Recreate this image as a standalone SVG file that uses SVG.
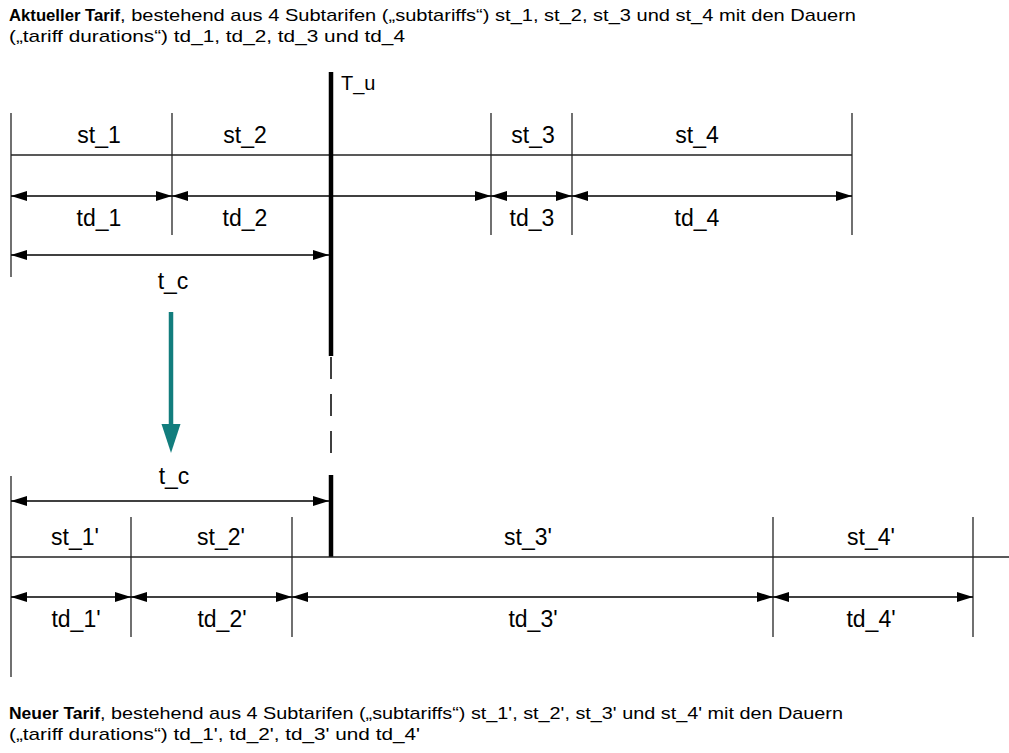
<svg xmlns="http://www.w3.org/2000/svg" width="1009" height="753" viewBox="0 0 1009 753">
<style>
  text { font-family: "Liberation Sans", Arial, sans-serif; fill: #000; }
  .title { font-size: 17px; }
  .b { font-weight: bold; }
  .lbl { font-size: 23px; text-anchor: middle; }
  .tick { stroke: #111; stroke-width: 1.2; }
  .axis { stroke: #222; stroke-width: 1.3; }
  .dim { stroke: #000; stroke-width: 1.3; marker-start: url(#ah); marker-end: url(#ah); }
  .thick { stroke: #000; stroke-width: 4.5; }
  .dash { stroke: #000; stroke-width: 1.5; stroke-dasharray: 22 15; }
</style>
<defs>
  <marker id="ah" markerUnits="userSpaceOnUse" markerWidth="16" markerHeight="10" refX="16" refY="5" orient="auto-start-reverse">
    <path d="M0,0 L16,5 L0,10 z" fill="#000"/>
  </marker>
</defs>
<rect width="1009" height="753" fill="#fff"/>

<g id="title-top">
  <text class="title b" x="9" y="21" textLength="111" lengthAdjust="spacingAndGlyphs">Aktueller Tarif</text>
  <text class="title" x="120" y="21" textLength="736" lengthAdjust="spacingAndGlyphs">, bestehend aus 4 Subtarifen („subtariffs“) st_1, st_2, st_3 und st_4 mit den Dauern</text>
  <text class="title" x="9" y="42" textLength="396" lengthAdjust="spacingAndGlyphs">(„tariff durations“) td_1, td_2, td_3 und td_4</text>
</g>

<g id="current-tariff">
  <g id="ticks-top">
    <line class="tick" x1="11" y1="113" x2="11" y2="277"/>
    <line class="tick" x1="172" y1="113" x2="172" y2="235"/>
    <line class="tick" x1="491" y1="113" x2="491" y2="235"/>
    <line class="tick" x1="572" y1="113" x2="572" y2="235"/>
    <line class="tick" x1="852" y1="113" x2="852" y2="235"/>
    <line class="axis" x1="11" y1="155" x2="852" y2="155"/>
  </g>
  <g id="st-top">
    <text class="lbl" x="99" y="143">st_1</text>
    <text class="lbl" x="245" y="143">st_2</text>
    <text class="lbl" x="533" y="143">st_3</text>
    <text class="lbl" x="697" y="143">st_4</text>
  </g>
  <g id="td-top">
    <text class="lbl" x="99" y="226">td_1</text>
    <text class="lbl" x="245" y="226">td_2</text>
    <text class="lbl" x="532" y="226">td_3</text>
    <text class="lbl" x="697" y="226">td_4</text>
  </g>
  <text id="tc-top" class="lbl" x="173" y="289">t_c</text>
</g>

<g id="Tu">
  <line class="thick" x1="331" y1="72" x2="331" y2="356"/>
  <line class="dash" x1="331" y1="357" x2="331" y2="458"/>
  <line class="thick" x1="331" y1="475" x2="331" y2="557"/>
  <text x="341" y="90" style="font-size:20px">T_u</text>
</g>

<g id="transition-arrow">
  <line x1="171" y1="312" x2="171" y2="428" stroke="#127d7d" stroke-width="4.5"/>
  <polygon points="161.5,424 180.5,424 171,453" fill="#127d7d"/>
</g>

<g id="new-tariff">
  <text id="tc-bottom" class="lbl" x="174" y="484">t_c</text>
  <g id="ticks-bottom">
    <line class="tick" x1="11" y1="476" x2="11" y2="677"/>
    <line class="tick" x1="131" y1="517" x2="131" y2="637"/>
    <line class="tick" x1="292" y1="517" x2="292" y2="637"/>
    <line class="tick" x1="773" y1="517" x2="773" y2="637"/>
    <line class="tick" x1="973" y1="517" x2="973" y2="637"/>
    <line class="axis" x1="11" y1="557" x2="1009" y2="557"/>
  </g>
  <g id="st-bottom">
    <text class="lbl" x="75" y="545">st_1'</text>
    <text class="lbl" x="221" y="545">st_2'</text>
    <text class="lbl" x="528" y="545">st_3'</text>
    <text class="lbl" x="871" y="545">st_4'</text>
  </g>
  <g id="td-bottom">
    <text class="lbl" x="76" y="627">td_1'</text>
    <text class="lbl" x="222" y="627">td_2'</text>
    <text class="lbl" x="533" y="627">td_3'</text>
    <text class="lbl" x="871" y="627">td_4'</text>
  </g>
</g>

<g id="connectors">
  <line class="dim" x1="11" y1="196" x2="172" y2="196"/>
  <line class="dim" x1="172" y1="196" x2="491" y2="196"/>
  <line class="dim" x1="491" y1="196" x2="572" y2="196"/>
  <line class="dim" x1="572" y1="196" x2="852" y2="196"/>
  <line class="dim" x1="11" y1="255" x2="329" y2="255"/>
  <line class="dim" x1="11" y1="501" x2="329" y2="501"/>
  <line class="dim" x1="11" y1="597" x2="131" y2="597"/>
  <line class="dim" x1="131" y1="597" x2="292" y2="597"/>
  <line class="dim" x1="292" y1="597" x2="773" y2="597"/>
  <line class="dim" x1="773" y1="597" x2="973" y2="597"/>
</g>

<g id="title-bottom">
  <text class="title b" x="9" y="719" textLength="91" lengthAdjust="spacingAndGlyphs">Neuer Tarif</text>
  <text class="title" x="100" y="719" textLength="743" lengthAdjust="spacingAndGlyphs">, bestehend aus 4 Subtarifen („subtariffs“) st_1', st_2', st_3' und st_4' mit den Dauern</text>
  <text class="title" x="9" y="740" textLength="411" lengthAdjust="spacingAndGlyphs">(„tariff durations“) td_1', td_2', td_3' und td_4'</text>
</g>
</svg>
